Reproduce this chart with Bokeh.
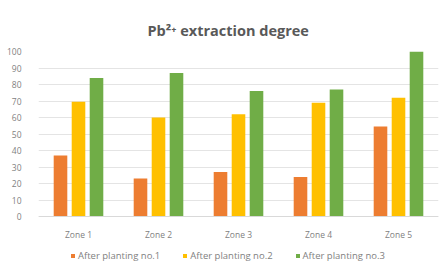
from bokeh.plotting import figure
from bokeh.models import FactorRange, Legend, LegendItem, ColumnDataSource, Span
from bokeh.transform import dodge
from bokeh.core.properties import value
from bokeh.embed import file_html
from bokeh.resources import INLINE

zones = ["Zone 1", "Zone 2", "Zone 3", "Zone 4", "Zone 5"]
planting1 = [37, 23, 27, 24, 54.5]
planting2 = [69.5, 60, 62, 69, 72]
planting3 = [84, 87, 76, 77, 100]
series_names = ["After planting no.1", "After planting no.2", "After planting no.3"]
colors = ["#ED7D31", "#FFC000", "#70AD47"]
y_ticks = [0, 10, 20, 30, 40, 50, 60, 70, 80, 90, 100]

src = ColumnDataSource(dict(zone=zones, s1=planting1, s2=planting2, s3=planting3))

p = figure(x_range=FactorRange(*zones), y_range=(-31.5, 100),
           width=442, height=272, frame_width=400, frame_height=217,
           output_backend="svg", toolbar_location=None,
           min_border_left=38, min_border_right=4, min_border_top=51, min_border_bottom=4)

p.title.text = "Pb\u00b2\u207a extraction degree"
p.title.align = "left"
p.title.offset = 109
p.title.text_font = "Open Sans"
p.title.text_font_size = "14.5px"
p.title.text_color = "#595959"
p.title.text_font_style = "bold"
p.title.standoff = 23

renderers = []
for key, off, c in zip(["s1", "s2", "s3"], [-0.225, 0.0, 0.225], colors):
    r = p.vbar(x=dodge("zone", off, range=p.x_range), top=key, width=0.17,
               source=src, color=c, line_color=None)
    renderers.append(r)

# category labels under the baseline
p.text(x=zones, y=0, text=zones, y_offset=18, text_align="center", text_baseline="middle",
       text_font=value("Open Sans"), text_font_size="8.5px", text_color="#7f7f7f")

p.add_layout(Span(location=0, dimension="width", line_color="#d9d9d9", line_width=1))

p.xaxis.visible = False
p.yaxis.ticker = y_ticks
p.yaxis.axis_line_color = None
p.yaxis.major_tick_line_color = None
p.yaxis.minor_tick_line_color = None
p.yaxis.major_label_text_font = "Open Sans"
p.yaxis.major_label_text_font_size = "8.5px"
p.yaxis.major_label_text_color = "#7f7f7f"
p.yaxis.major_label_standoff = 11

p.xgrid.grid_line_color = None
p.ygrid.grid_line_color = "#e4e4e4"
p.outline_line_color = None

legend = Legend(items=[LegendItem(label=n, renderers=[r]) for n, r in zip(series_names, renderers)],
                orientation="horizontal", location=(32, 6),
                label_text_font="Open Sans", label_text_font_size="9.5px",
                label_text_color="#7f7f7f", glyph_width=5, glyph_height=5,
                spacing=22, padding=2, margin=0, border_line_color=None,
                background_fill_alpha=0, label_standoff=3, label_height=10)
p.add_layout(legend, "center")

open("out.html", "w").write(file_html(p, INLINE))
